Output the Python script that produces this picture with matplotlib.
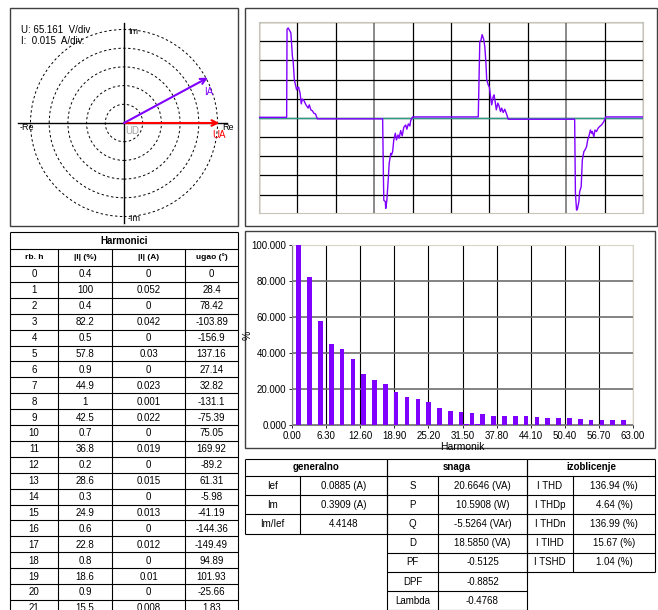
import matplotlib
matplotlib.use('Agg')
import matplotlib.pyplot as plt
from matplotlib.patches import Rectangle, Circle
import numpy as np

plt.rcParams['font.family'] = ['Liberation Sans', 'DejaVu Sans']
plt.rcParams['font.size'] = 7

W, H = 658, 610
PURPLE = '#8000ff'

# phasor diagram, magnitudes in divisions
u_scale_txt = 'U: 65.161  V/div'
i_scale_txt = 'I:  0.015  A/div.'
ua_mag, ua_ang = 5.1, 0.0
ia_mag, ia_ang = 5.1, 28.4

# current waveform (divisions)
wave_x = [0.00, 0.72, 0.73, 0.76, 0.81, 0.83, 0.87, 0.89, 0.92, 0.95, 0.98, 1.01, 1.03,
          1.07, 1.10, 1.13, 1.17, 1.21, 1.24, 1.28, 1.31, 1.35, 1.39, 1.43, 1.47, 1.52,
          3.22, 3.24, 3.25, 3.29, 3.30, 3.33, 3.37, 3.39, 3.43, 3.45, 3.48, 3.51, 3.55,
          3.58, 3.62, 3.65, 3.69, 3.73, 3.77, 3.82, 3.85, 3.89, 3.93, 3.95, 4.00,
          5.71, 5.75, 5.78, 5.81, 5.85, 5.88, 5.91, 5.93, 5.97, 6.00, 6.04, 6.06, 6.10,
          6.12, 6.15, 6.18, 6.22, 6.25, 6.29, 6.32, 6.36, 6.40, 6.44, 6.49,
          8.22, 8.24, 8.27, 8.29, 8.33, 8.35, 8.39, 8.42, 8.46, 8.49, 8.53, 8.56, 8.60,
          8.63, 8.66, 8.68, 8.72, 8.75, 8.79, 8.83, 8.87, 8.92, 8.98, 9.03, 10.00]
wave_y = [0.03, 0.03, 4.63, 4.69, 4.51, 4.43, 3.21, 2.94, 1.99, 1.72, 1.46, 1.60, 1.60,
          1.29, 0.73, 0.98, 0.91, 0.73, 0.63, 0.51, 0.68, 0.42, 0.37, 0.24, 0.21, -0.05,
          -0.05, -3.07, -4.29, -4.37, -4.72, -4.29, -3.07, -2.37, -1.85, -1.93, -1.76, -1.15, -0.80,
          -1.15, -0.89, -1.06, -0.66, -0.94, -0.49, -0.37, -0.59, -0.31, -0.42, -0.14, 0.05,
          0.05, 3.99, 4.04, 4.34, 4.11, 3.73, 2.86, 1.99, 1.72, 1.60, 0.94, 0.68, 1.11,
          1.20, 0.85, 0.42, 0.77, 0.63, 0.33, 0.51, 0.28, 0.45, 0.24, -0.07,
          -0.07, -3.94, -4.81, -4.77, -4.37, -3.85, -3.59, -2.20, -1.76, -1.67, -1.50, -1.15, -0.89,
          -0.63, -0.80, -0.71, -0.98, -0.63, -0.71, -0.54, -0.45, -0.37, -0.19, 0.05, 0.05]

# harmonics table
harm_h = list(range(22))
harm_pct = [0.4, 100, 0.4, 82.2, 0.5, 57.8, 0.9, 44.9, 1, 42.5, 0.7,
            36.8, 0.2, 28.6, 0.3, 24.9, 0.6, 22.8, 0.8, 18.6, 0.9, 15.5]
harm_amp = [0, 0.052, 0, 0.042, 0, 0.03, 0, 0.023, 0.001, 0.022, 0,
            0.019, 0, 0.015, 0, 0.013, 0, 0.012, 0, 0.01, 0, 0.008]
harm_ang = [0, 28.4, 78.42, -103.89, -156.9, 137.16, 27.14, 32.82, -131.1, -75.39, 75.05,
            169.92, -89.2, 61.31, -5.98, -41.19, -144.36, -149.49, 94.89, 101.93, -25.66, 1.83]

# spectrum bars (odd harmonics + two small even ones)
bar_h = list(range(1, 62, 2)) + [32, 34]
bar_pct = [100, 82.2, 57.8, 44.9, 42.5, 36.8, 28.6, 24.9, 22.8, 18.6, 15.5,
           14.5, 12.6, 9.3, 8.0, 7.4, 6.9, 5.9, 5.2, 5.0, 5.0, 5.0, 4.5, 4.1,
           4.1, 3.7, 3.2, 2.8, 2.6, 2.6, 2.6, 0.8, 0.8]

# summary tables
gen_names = ['Ief', 'Im', 'Im/Ief']
gen_vals = [0.0885, 0.3909, 4.4148]
gen_units = [' (A)', ' (A)', '']
snaga_names = ['S', 'P', 'Q', 'D', 'PF', 'DPF', 'Lambda']
snaga_vals = [20.6646, 10.5908, -5.5264, 18.5850, -0.5125, -0.8852, -0.4768]
snaga_units = [' (VA)', ' (W)', ' (VAr)', ' (VA)', '', '', '']
izob_names = ['I THD', 'I THDp', 'I THDn', 'I TIHD', 'I TSHD']
izob_vals = [136.94, 4.64, 136.99, 15.67, 1.04]


fig = plt.figure(figsize=(W / 100, H / 100), dpi=100)
fig.patch.set_facecolor('white')


def px_axes(l, t, r, b):
    return fig.add_axes([l / W, 1 - b / H, (r - l) / W, (b - t) / H])


# background layer in pixel coords for frames and tables
bg = fig.add_axes([0, 0, 1, 1])
bg.set_xlim(0, W)
bg.set_ylim(H, 0)
bg.axis('off')

for (l, t, r, b) in [(10, 8, 238, 226), (245, 8, 657, 226), (245, 231, 655, 448)]:
    bg.add_patch(Rectangle((l, t), r - l, b - t, fill=False, ec='#404040', lw=1.0))


def hl(y, x0, x1):
    bg.plot([x0, x1], [y, y], color='black', lw=0.8, solid_capstyle='butt')


def vl(x, y0, y1):
    bg.plot([x, x], [y0, y1], color='black', lw=0.8, solid_capstyle='butt')


# harmonics table
cols = [10, 58, 112, 185, 238]
top, t_bot, h_bot, rh = 232, 249, 266, 15.9
hl(top, cols[0], cols[-1])
hl(t_bot, cols[0], cols[-1])
bg.text((cols[0] + cols[-1]) / 2, (top + t_bot) / 2, 'Harmonici', ha='center', va='center',
        fontweight='bold', fontsize=7)
vl(cols[0], top, H)
vl(cols[-1], top, H)
for c in cols[1:-1]:
    vl(c, t_bot, H)
hdr = ['rb. h', '|I| (%)', '|I| (A)', 'ugao (°)']
for i, s in enumerate(hdr):
    bg.text((cols[i] + cols[i + 1]) / 2, (t_bot + h_bot) / 2, s, ha='center', va='center',
            fontweight='bold', fontsize=6)
hl(h_bot, cols[0], cols[-1])
for k, h in enumerate(harm_h):
    y0 = h_bot + k * rh
    row = [str(h), f'{harm_pct[k]:g}', f'{harm_amp[k]:g}', f'{harm_ang[k]:g}']
    for i, s in enumerate(row):
        bg.text((cols[i] + cols[i + 1]) / 2, y0 + rh / 2 + 0.5, s, ha='center', va='center')
    hl(y0 + rh, cols[0], cols[-1])


# summary tables
btop, bhdr, brh = 459, 476, 19.2


def summary(c, title, names, texts):
    hl(btop, c[0], c[2])
    hl(bhdr, c[0], c[2])
    bg.text((c[0] + c[2]) / 2, (btop + bhdr) / 2, title, ha='center', va='center',
            fontweight='bold', fontsize=7)
    bot = bhdr + brh * len(names)
    vl(c[0], btop, bot)
    vl(c[2], btop, bot)
    vl(c[1], bhdr, bot)
    for k, (n, s) in enumerate(zip(names, texts)):
        yc = bhdr + brh * (k + 0.5)
        bg.text((c[0] + c[1]) / 2, yc, n, ha='center', va='center')
        bg.text((c[1] + c[2]) / 2, yc, s, ha='center', va='center')
        hl(bhdr + brh * (k + 1), c[0], c[2])


summary([245, 300, 387], 'generalno', gen_names,
        [f'{v:.4f}{u}' for v, u in zip(gen_vals, gen_units)])
summary([387, 438, 527], 'snaga', snaga_names,
        [f'{v:.4f}{u}' for v, u in zip(snaga_vals, snaga_units)])
summary([527, 573, 655], 'izoblicenje', izob_names,
        [f'{v:.2f} (%)' for v in izob_vals])


# phasor diagram
s = 18.7
cx, cy = 124, 123
ax = px_axes(10, 8, 238, 226)
ax.set_xlim((10 - cx) / s, (238 - cx) / s)
ax.set_ylim((cy - 226) / s, (cy - 8) / s)
ax.axis('off')
for r in range(1, 6):
    ax.add_patch(Circle((0, 0), r, fill=False, ec='black', lw=0.7, ls=(0, (2.5, 2.5))))
ax.plot([(18 - cx) / s, (227 - cx) / s], [0, 0], color='black', lw=1)
ax.plot([0, 0], [(cy - 223) / s, (cy - 23) / s], color='black', lw=1)
ua = ua_mag * np.exp(1j * np.radians(ua_ang))
ia = ia_mag * np.exp(1j * np.radians(ia_ang))
ax.annotate('', xy=(ua.real, ua.imag), xytext=(0, 0),
            arrowprops=dict(arrowstyle='->', color='red', lw=1.5, shrinkA=0, shrinkB=0,
                            mutation_scale=10))
ax.annotate('', xy=(ia.real, ia.imag), xytext=(0, 0),
            arrowprops=dict(arrowstyle='->', color=PURPLE, lw=1.5, shrinkA=0, shrinkB=0,
                            mutation_scale=10))
ax.text(ua.real - 0.4, ua.imag - 0.35, 'UA', color='red', fontsize=7, va='top')
ax.text(ia.real - 0.2, ia.imag - 0.5, 'IA', color=PURPLE, fontsize=7, va='top')
ax.text(0.05, -0.15, 'UD', color='#a0a0a0', fontsize=7, va='top')
ax.text(0.2, 4.87, 'Im', fontsize=6.5, va='center')
ax.text(0.2, -5.13, '-Im', fontsize=6.5, va='center')
ax.text(-5.56, -0.25, '-Re', fontsize=6.5, va='center')
ax.text(5.24, -0.25, 'Re', fontsize=6.5, va='center')
ax.text(0.05, 0.9, u_scale_txt, transform=ax.transAxes, fontsize=7, va='center')
ax.text(0.05, 0.85, i_scale_txt, transform=ax.transAxes, fontsize=7, va='center')


# waveform
aw = px_axes(259, 22, 643, 213)
aw.set_xlim(0, 10)
aw.set_ylim(-4.96, 5)
aw.set_xticks(range(11))
aw.set_yticks(range(-4, 6))
aw.tick_params(length=0, labelbottom=False, labelleft=False)
aw.grid(True, color='black', lw=0.9)
for i in (3, 8):
    aw.get_xgridlines()[i].set_color('#808080')
    aw.get_xgridlines()[i].set_linewidth(1.3)
for sp in aw.spines.values():
    sp.set_color('#c8c4b8')
aw.axhline(0, color='#2f9a86', lw=1.0, zorder=3)
aw.plot(wave_x, wave_y, color=PURPLE, lw=1.0, zorder=4)


# spectrum
ab = px_axes(292, 245, 633, 425)
ab.bar(np.array(bar_h) + 0.25, bar_pct, width=0.85, color=PURPLE, zorder=3)
ab.set_xlim(0, 63)
ab.set_ylim(0, 100)
xt = np.arange(0, 63.01, 6.3)
ab.set_xticks(xt)
ab.set_xticklabels([f'{v:.2f}' for v in xt])
ab.set_yticks(range(0, 101, 20))
ab.set_yticklabels([f'{v:.3f}' for v in range(0, 101, 20)])
ab.tick_params(length=2, width=0.6, pad=2, labelsize=7)
ab.xaxis.grid(True, color='black', lw=0.8)
ab.yaxis.grid(True, color='#6e6e6e', lw=1.2)
ab.set_axisbelow(True)
for sp in ab.spines.values():
    sp.set_color('#d8d4c8')
ab.spines['left'].set_color('#808080')
ab.spines['bottom'].set_color('#808080')
ab.set_xlabel('Harmonik', fontsize=7.5)
ab.xaxis.set_label_coords(0.5, -0.095)
ab.set_ylabel('%', fontsize=7.5)
ab.yaxis.set_label_coords(-0.115, 0.5)

fig.savefig('out.png', dpi=100)
